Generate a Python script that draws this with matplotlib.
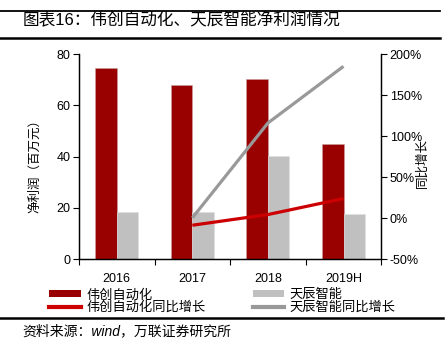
import matplotlib
matplotlib.use("Agg")
import matplotlib.pyplot as plt
from matplotlib.lines import Line2D
from matplotlib.patches import Patch
import matplotlib.ticker as ticker

plt.rcParams["font.family"] = ["Liberation Sans", "Noto Sans CJK SC", "DejaVu Sans"]
plt.rcParams["axes.unicode_minus"] = False

# 数据
years = ["2016", "2017", "2018", "2019H"]
weichuang_profit = [74.5, 68.0, 70.4, 44.9]
tianchen_profit = [18.4, 18.6, 40.4, 17.5]
growth_years = ["2017", "2018", "2019H"]
weichuang_growth = [-8.5, 4.5, 24.0]
tianchen_growth = [0.5, 116.0, 185.0]

RED_BAR = "#990000"
GRAY_BAR = "#C0C0C0"
RED_LINE = "#CC0000"
GRAY_LINE = "#999999"

fig = plt.figure(figsize=(4.47, 3.53), dpi=100)
ax = fig.add_axes([0.1767, 0.2654, 0.853 - 0.1767, 0.847 - 0.2654])
ax2 = ax.twinx()

x = list(range(len(years)))
w = 0.285
ax.bar([i - w / 2 for i in x], weichuang_profit, width=w, color=RED_BAR,
       edgecolor="#c9a0a0", linewidth=0.4)
ax.bar([i + w / 2 for i in x], tianchen_profit, width=w, color=GRAY_BAR,
       edgecolor="#e0e0e0", linewidth=0.4)

gx = [years.index(y) for y in growth_years]
ax2.plot(gx, tianchen_growth, color=GRAY_LINE, linewidth=2.3, solid_capstyle="butt")
ax2.plot(gx, weichuang_growth, color=RED_LINE, linewidth=2.3, solid_capstyle="butt")

ax.set_xlim(-0.5, len(years) - 0.5)
ax.set_ylim(0, 80)
ax2.set_ylim(-50, 200)
ax.set_yticks([0, 20, 40, 60, 80])
ax2.set_yticks([-50, 0, 50, 100, 150, 200])
ax2.yaxis.set_major_formatter(ticker.FuncFormatter(lambda v, p: f"{v:.0f}%"))

ax.set_xticks(x)
ax.set_xticklabels(years)
ax.set_xticks([i - 0.5 for i in range(len(years) + 1)], minor=True)
ax.tick_params(axis="x", which="major", length=0, labelsize=9, pad=10)
ax.tick_params(axis="x", which="minor", length=4, width=0.8, direction="out")
ax.tick_params(axis="y", length=4, width=0.8, labelsize=9, pad=2)
ax2.tick_params(axis="y", length=4, width=0.8, labelsize=9, pad=2)

for a in (ax, ax2):
    a.spines["top"].set_visible(False)
    for s in ("left", "right", "bottom"):
        a.spines[s].set_linewidth(0.9)

ax.set_ylabel("净利润（百万元）", fontsize=9)
ax.yaxis.set_label_coords(-0.125, 0.47)
ax2.set_ylabel("同比增长", fontsize=9)
ax2.yaxis.set_label_coords(1.115, 0.47)

handles = [
    Patch(facecolor=RED_BAR, label="伟创自动化"),
    Line2D([0], [0], color=RED_LINE, linewidth=3, label="伟创自动化同比增长"),
    Patch(facecolor=GRAY_BAR, label="天辰智能"),
    Line2D([0], [0], color=GRAY_LINE, linewidth=3, label="天辰智能同比增长"),
]
fig.legend(handles=handles, ncol=2, loc="upper left", bbox_to_anchor=(0.095, 0.2),
           frameon=False, fontsize=9.5, handlelength=2.4, handleheight=0.45,
           handletextpad=0.4, columnspacing=3.6, labelspacing=0.0, borderpad=0)

# 标题与分隔线
fig.text(0.05, 0.943, "图表16：伟创自动化、天辰智能净利润情况", fontsize=12,
         ha="left", va="center")
fig.add_artist(Line2D([0, 0.985], [0.970, 0.970], color="black", linewidth=1.3))
fig.add_artist(Line2D([0, 0.985], [0.891, 0.891], color="black", linewidth=1.8))
fig.add_artist(Line2D([0, 0.99], [0.099, 0.099], color="black", linewidth=1.8))
fig.text(0.05, 0.063, "资料来源：wind，万联证券研究所", fontsize=10,
         ha="left", va="center", style="italic")

fig.savefig("out.png", dpi=100)
